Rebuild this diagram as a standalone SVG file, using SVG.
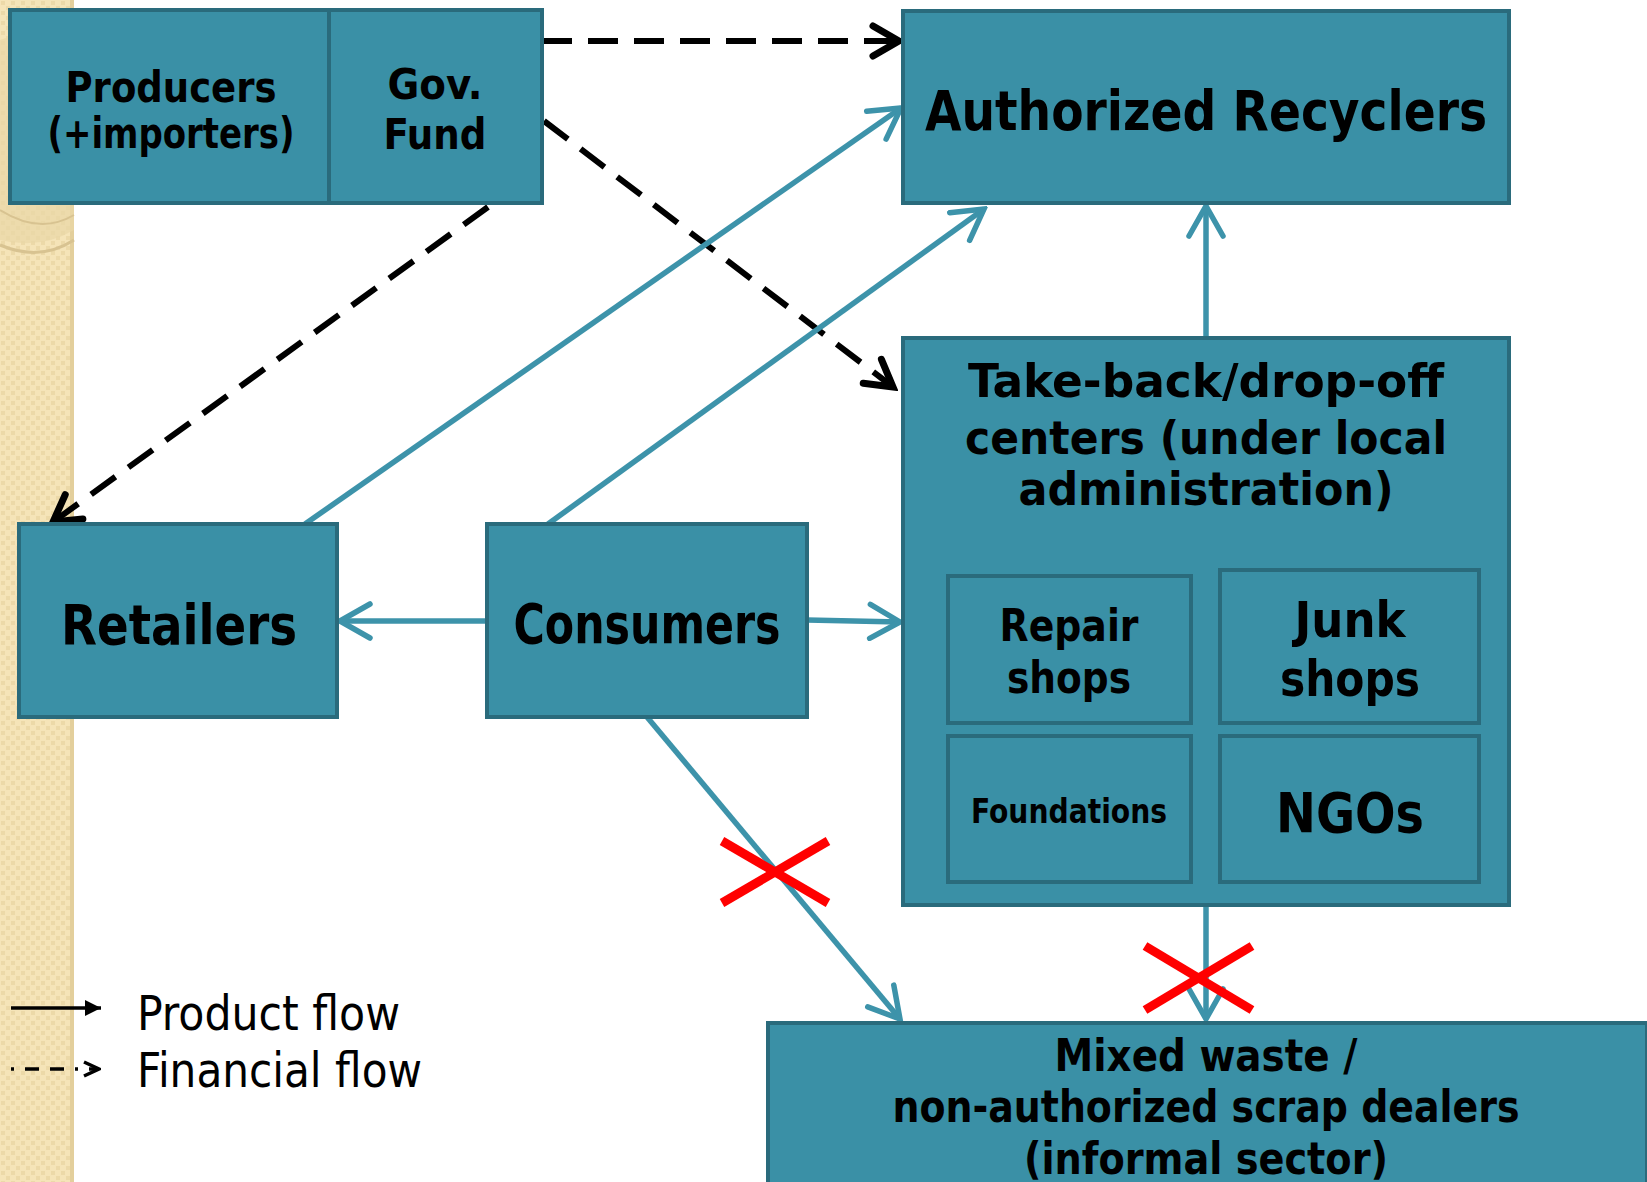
<svg xmlns="http://www.w3.org/2000/svg" width="1647" height="1182" viewBox="0 0 1647 1182">
<defs>
<style>
.box{fill:#3a90a6;stroke:#2a6b7c;stroke-width:4}
.t{font-family:'DejaVu Sans Condensed','DejaVu Sans',sans-serif;font-stretch:condensed;font-weight:bold;fill:#000;text-anchor:middle}
.lg{font-family:'DejaVu Sans Condensed','DejaVu Sans',sans-serif;font-stretch:condensed;fill:#000}
.flow{fill:none;stroke:#3d93aa;stroke-width:5.5}
.fin{fill:none;stroke:#000;stroke-width:6;stroke-dasharray:30 16}
.x{stroke:#ff0000;stroke-width:9}
</style>
<pattern id="chk" width="10" height="10" patternUnits="userSpaceOnUse">
<rect width="10" height="10" fill="#f5e4b8"/>
<rect x="1" y="1" width="4" height="4" fill="#ecd9a8"/>
<rect x="6" y="6" width="4" height="4" fill="#ecd9a8"/>
</pattern>
<marker id="ah" markerUnits="userSpaceOnUse" viewBox="0 0 40 40" refX="36" refY="20" markerWidth="40" markerHeight="40" orient="auto">
<path d="M6,3 L36,20 L6,37" fill="none" stroke="#3d93aa" stroke-width="5.5" stroke-linecap="round"/>
</marker>
<marker id="ahk" markerUnits="userSpaceOnUse" viewBox="0 0 40 40" refX="34" refY="20" markerWidth="40" markerHeight="40" orient="auto">
<path d="M8,5 L34,20 L8,35" fill="none" stroke="#000" stroke-width="7" stroke-linecap="round"/>
</marker>
<marker id="ahl" markerUnits="userSpaceOnUse" viewBox="0 0 20 20" refX="18" refY="10" markerWidth="20" markerHeight="20" orient="auto">
<path d="M2,2 L18,10 L2,18 Z" fill="#000"/>
</marker>
<marker id="ahld" markerUnits="userSpaceOnUse" viewBox="0 0 20 20" refX="18" refY="10" markerWidth="20" markerHeight="20" orient="auto">
<path d="M3,3 L18,10 L3,17" fill="none" stroke="#000" stroke-width="3.5"/>
</marker>
</defs>
<rect width="1647" height="1182" fill="#fff"/>
<g id="sidebar">
<rect x="0" y="0" width="74" height="1182" fill="url(#chk)"/>
<rect x="70" y="0" width="4" height="1182" fill="#e3cf9c"/>
<path d="M0,40 Q40,25 74,45 L74,230 Q40,250 0,240 Z" fill="#ead7a6" opacity="0.7"/>
<path d="M0,210 Q40,235 74,215" fill="none" stroke="#d8c391" stroke-width="2"/>
<path d="M0,245 Q40,262 74,240" fill="none" stroke="#d8c391" stroke-width="3"/>
</g>
<g id="connectors">
<line class="fin" x1="542" y1="41" x2="899" y2="41" marker-end="url(#ahk)"/>
<line class="fin" x1="544" y1="121" x2="893" y2="387" marker-end="url(#ahk)"/>
<line class="fin" x1="488" y1="207" x2="53" y2="522" marker-end="url(#ahk)"/>
<line class="flow" x1="305" y1="524" x2="901" y2="108" marker-end="url(#ah)"/>
<line class="flow" x1="548" y1="524" x2="984" y2="209" marker-end="url(#ah)"/>
<line class="flow" x1="1206" y1="338" x2="1206" y2="206" marker-end="url(#ah)"/>
<line class="flow" x1="487" y1="621" x2="340" y2="621" marker-end="url(#ah)"/>
<line class="flow" x1="807" y1="620" x2="900" y2="622" marker-end="url(#ah)"/>
<line class="flow" x1="647" y1="717" x2="900" y2="1019" marker-end="url(#ah)"/>
<line class="flow" x1="1206" y1="905" x2="1206" y2="1019" marker-end="url(#ah)"/>
</g>
<g id="producers">
<rect class="box" x="10" y="10" width="319" height="193"/>
<text class="t" font-size="42" x="171" y="102" textLength="211" lengthAdjust="spacingAndGlyphs">Producers</text>
<text class="t" font-size="42" x="171" y="148" textLength="247" lengthAdjust="spacingAndGlyphs">(+importers)</text>
</g>
<g id="gov-fund">
<rect class="box" x="329" y="10" width="213" height="193"/>
<text class="t" font-size="42" x="435" y="99" textLength="95" lengthAdjust="spacingAndGlyphs">Gov.</text>
<text class="t" font-size="42" x="435" y="149" textLength="103" lengthAdjust="spacingAndGlyphs">Fund</text>
</g>
<g id="authorized-recyclers">
<rect class="box" x="903" y="11" width="606" height="192"/>
<text class="t" font-size="55" x="1206" y="130" textLength="562" lengthAdjust="spacingAndGlyphs">Authorized Recyclers</text>
</g>
<g id="take-back">
<rect class="box" x="903" y="338" width="606" height="567"/>
<text class="t" font-size="47" x="1206" y="397" textLength="476" lengthAdjust="spacingAndGlyphs">Take-back/drop-off</text>
<text class="t" font-size="47" x="1206" y="454" textLength="482" lengthAdjust="spacingAndGlyphs">centers (under local</text>
<text class="t" font-size="47" x="1206" y="505" textLength="375" lengthAdjust="spacingAndGlyphs">administration)</text>
</g>
<g id="repair-shops">
<rect class="box" x="948" y="576" width="243" height="147"/>
<text class="t" font-size="44" x="1069" y="641" textLength="139" lengthAdjust="spacingAndGlyphs">Repair</text>
<text class="t" font-size="44" x="1069" y="693" textLength="124" lengthAdjust="spacingAndGlyphs">shops</text>
</g>
<g id="junk-shops">
<rect class="box" x="1220" y="570" width="259" height="153"/>
<text class="t" font-size="49" x="1350" y="637" textLength="111" lengthAdjust="spacingAndGlyphs">Junk</text>
<text class="t" font-size="49" x="1350" y="696" textLength="140" lengthAdjust="spacingAndGlyphs">shops</text>
</g>
<g id="foundations">
<rect class="box" x="948" y="736" width="243" height="146"/>
<text class="t" font-size="33" x="1069" y="823" textLength="196" lengthAdjust="spacingAndGlyphs">Foundations</text>
</g>
<g id="ngos">
<rect class="box" x="1220" y="736" width="259" height="146"/>
<text class="t" font-size="56" x="1350" y="832" textLength="148" lengthAdjust="spacingAndGlyphs">NGOs</text>
</g>
<g id="retailers">
<rect class="box" x="19" y="524" width="318" height="193"/>
<text class="t" font-size="56" x="179" y="644" textLength="236" lengthAdjust="spacingAndGlyphs">Retailers</text>
</g>
<g id="consumers">
<rect class="box" x="487" y="524" width="320" height="193"/>
<text class="t" font-size="56" x="647" y="643" textLength="267" lengthAdjust="spacingAndGlyphs">Consumers</text>
</g>
<g id="mixed-waste">
<rect class="box" x="768" y="1023" width="879" height="170"/>
<text class="t" font-size="44" x="1206" y="1071" textLength="303" lengthAdjust="spacingAndGlyphs">Mixed waste /</text>
<text class="t" font-size="44" x="1206" y="1122" textLength="627" lengthAdjust="spacingAndGlyphs">non-authorized scrap dealers</text>
<text class="t" font-size="44" x="1206" y="1174" textLength="364" lengthAdjust="spacingAndGlyphs">(informal sector)</text>
</g>
<g id="blocked">
<line class="x" x1="722" y1="841" x2="828" y2="903"/>
<line class="x" x1="722" y1="903" x2="828" y2="841"/>
<line class="x" x1="1145" y1="946" x2="1252" y2="1010"/>
<line class="x" x1="1145" y1="1010" x2="1252" y2="946"/>
</g>
<g id="legend">
<line x1="11" y1="1008" x2="101" y2="1008" stroke="#000" stroke-width="3.5" marker-end="url(#ahl)"/>
<line x1="11" y1="1069" x2="99" y2="1069" stroke="#000" stroke-width="3.5" stroke-dasharray="3 11 14 11 14 11" marker-end="url(#ahld)"/>
<text class="lg" font-size="48" x="137" y="1030" textLength="263" lengthAdjust="spacingAndGlyphs">Product flow</text>
<text class="lg" font-size="48" x="137" y="1087" textLength="285" lengthAdjust="spacingAndGlyphs">Financial flow</text>
</g>
</svg>
